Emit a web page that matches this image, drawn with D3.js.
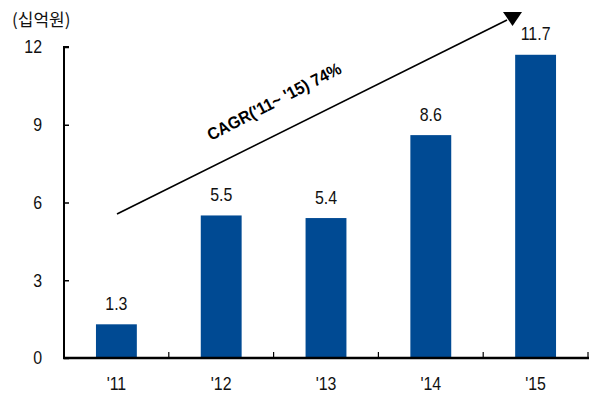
<!DOCTYPE html>
<html>
<head>
<meta charset="utf-8">
<script src="https://cdn.jsdelivr.net/npm/d3@7"></script>
<style>
  html, body { margin: 0; padding: 0; background: #fff; }
  svg { display: block; font-family: "Liberation Sans", Arial, sans-serif; }
</style>
</head>
<body>
<svg id="chart" width="591" height="399"></svg>
<script>
// Annual values (십억원)
const years = ["'11", "'12", "'13", "'14", "'15"];
const values = [1.3, 5.5, 5.4, 8.6, 11.7];
const yTicks = [0, 3, 6, 9, 12];
const unitLabel = "(십억원)";
const cagrLabel = "CAGR('11~ '15) 74%";

const svg = d3.select("#chart");
const plotLeft = 64, plotRight = 588, plotTop = 47, plotBottom = 358;
const fs = 17.5, squeeze = 0.91;
const place = (px, py) => `translate(${px},${py}) scale(${squeeze},1)`;

const x = d3.scaleBand().domain(years).range([plotLeft, plotRight]).paddingInner(0.61).paddingOuter(0.305);
const xb = d3.scaleBand().domain(years).range([plotLeft, plotRight]);
const y = d3.scaleLinear().domain([0, 12]).range([plotBottom, plotTop]);

// Bars
svg.append("g").selectAll("rect").data(values).join("rect")
  .attr("x", (d, i) => x(years[i]))
  .attr("y", d => y(d))
  .attr("width", x.bandwidth())
  .attr("height", d => y(0) - y(d))
  .attr("fill", "#004a93");

// Value labels
svg.append("g").selectAll("text").data(values).join("text")
  .attr("transform", (d, i) => place(x(years[i]) + x.bandwidth() / 2, y(d) - 14.5))
  .attr("text-anchor", "middle")
  .attr("font-size", fs)
  .attr("fill", "#111")
  .text(d => d.toFixed(1));

// Y axis
const yAxis = svg.append("g").attr("transform", `translate(${plotLeft},0)`)
  .call(d3.axisRight(y).tickValues(yTicks).tickSize(5).tickFormat(""));
yAxis.select(".domain").attr("stroke", "#000").attr("stroke-width", 2)
  .attr("d", `M5,${plotTop}H0V${plotBottom}`);
yAxis.selectAll(".tick line").attr("stroke", "#000").attr("stroke-width", 1.5);
svg.append("g").selectAll("text").data(yTicks).join("text")
  .attr("transform", d => place(42, y(d) + 6.3))
  .attr("text-anchor", "end")
  .attr("font-size", fs)
  .attr("fill", "#111")
  .text(d => d);

// X axis with separators between categories
svg.append("line")
  .attr("x1", plotLeft - 1).attr("x2", plotRight + 1)
  .attr("y1", plotBottom).attr("y2", plotBottom)
  .attr("stroke", "#000").attr("stroke-width", 2.5);
svg.append("g").selectAll("line").data(years).join("line")
  .attr("x1", d => xb(d) + xb.bandwidth())
  .attr("x2", d => xb(d) + xb.bandwidth())
  .attr("y1", plotBottom).attr("y2", plotBottom - 6)
  .attr("stroke", "#000").attr("stroke-width", 1.2);
svg.append("g").selectAll("text").data(years).join("text")
  .attr("transform", d => place(xb(d) + xb.bandwidth() / 2, 390))
  .attr("text-anchor", "middle")
  .attr("font-size", fs)
  .attr("fill", "#111")
  .text(d => d);

// Unit label
svg.append("text")
  .attr("x", 12).attr("y", 26)
  .attr("font-family", "'Noto Sans CJK KR', sans-serif")
  .attr("font-size", 17)
  .attr("fill", "#111")
  .text(unitLabel);

// Growth arrow with CAGR annotation
svg.append("line")
  .attr("x1", 117).attr("y1", 214)
  .attr("x2", 507).attr("y2", 20)
  .attr("stroke", "#000").attr("stroke-width", 1.7);
svg.append("path")
  .attr("d", "M503,12L522,12L512.5,26Z")
  .attr("fill", "#000");
svg.append("text")
  .attr("transform", "translate(211,141) rotate(-27.5) scale(0.93,1)")
  .attr("font-size", 17)
  .attr("font-weight", "bold")
  .attr("fill", "#000")
  .text(cagrLabel);
</script>
</body>
</html>
